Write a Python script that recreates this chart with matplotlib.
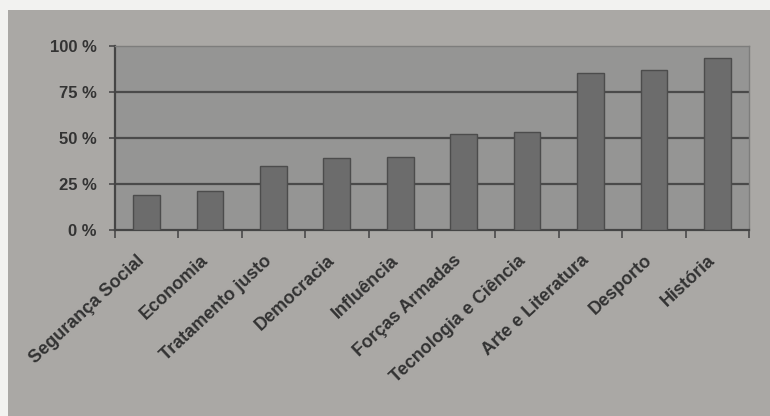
import matplotlib
matplotlib.use("Agg")
import matplotlib.pyplot as plt
from matplotlib.patches import Rectangle
import numpy as np

categories = ["Segurança Social", "Economia", "Tratamento justo", "Democracia",
              "Influência", "Forças Armadas", "Tecnologia e Ciência",
              "Arte e Literatura", "Desporto", "História"]
values = [19, 21, 35, 39, 39.5, 52, 53.5, 85.5, 87, 93.5]
yticks = [0, 25, 50, 75, 100]
ytick_labels = ["0 %", "25 %", "50 %", "75 %", "100 %"]

plt.rcParams['font.family'] = ['Liberation Sans', 'DejaVu Sans']

fig = plt.figure(figsize=(7.7, 4.16), dpi=100, facecolor='#f2f2f0')
# paper of the photo
fig.patches.append(Rectangle((0.0104, 0), 1, 0.976, transform=fig.transFigure,
                             facecolor='#aaa8a5', edgecolor='none', zorder=-10))

ax = fig.add_axes([0.149, 0.447, 0.824, 0.442])
ax.set_facecolor('#959594')

x = np.arange(len(categories))
ax.bar(x, values, width=0.42, color='#6c6c6c', edgecolor='#4c4c4c', linewidth=1.0, zorder=3)

ax.set_xlim(-0.5, len(categories) - 0.5)
ax.set_ylim(0, 100)

for y in yticks[1:4]:
    ax.axhline(y, color='#4a4a4a', linewidth=1.6, zorder=2)

ax.set_yticks(yticks)
ax.set_yticklabels(ytick_labels, fontsize=12, fontweight='bold', color='#333333')
ax.tick_params(axis='y', length=4, width=1.2, color='#4a4a4a', pad=9)

# ticks between categories, labels at category centres
ax.set_xticks(np.arange(len(categories) + 1) - 0.5)
ax.set_xticklabels([])
ax.tick_params(axis='x', length=6, width=1.2, color='#4a4a4a')
for i, name in enumerate(categories):
    ax.text(i - 0.16, -12, name, rotation=43, ha='right', va='top', rotation_mode='anchor',
            fontsize=13, fontweight='bold', color='#333333')

for side in ['top', 'right']:
    ax.spines[side].set_color('#7d7d7c')
    ax.spines[side].set_linewidth(1.0)
for side in ['left', 'bottom']:
    ax.spines[side].set_color('#454545')
    ax.spines[side].set_linewidth(1.6)

fig.savefig('out.png', dpi=100, facecolor=fig.get_facecolor())
